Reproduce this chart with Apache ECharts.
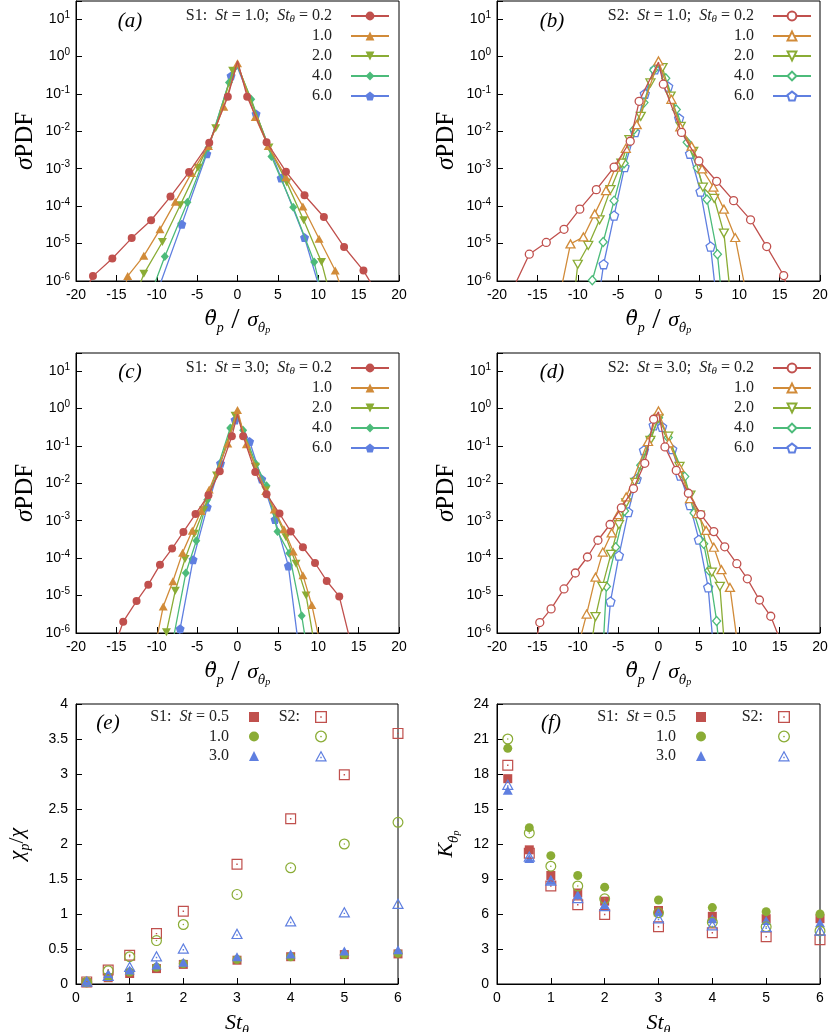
<!DOCTYPE html>
<html>
<head>
<meta charset="utf-8">
<title>PDF of particle angular velocity</title>
<script src="https://cdn.jsdelivr.net/npm/echarts@6.0.0/dist/echarts.min.js"></script>
<style>html,body{margin:0;padding:0;background:#fff;}</style>
</head>
<body>
<div id="main" style="width:830px;height:1032px;"></div>
<script type="text/javascript">
// ---------------- data ----------------
const stThetaNames = ['0.2', '1.0', '2.0', '4.0', '6.0'];

// [x, sigma*PDF] read off the markers; y = 7e-7 means the curve leaves the plot at the bottom
// (a) S1, St = 1.0
const a02 = [[-18.6,7e-7],[-17.9,1.35e-6],[-15.5,4e-6],[-13.1,1.4e-5],[-10.7,4.2e-5],[-8.3,1.8e-4],[-6.0,8.1e-4],[-3.5,4.9e-3],[-1.2,8.3e-2],[1.2,8.3e-2],[3.6,5.1e-3],[6.0,8.3e-4],[8.3,1.95e-4],[10.7,5.1e-5],[13.2,8.1e-6],[15.6,1.9e-6],[16.8,7e-7]];
const a10 = [[-13.9,7e-7],[-13.6,1.35e-6],[-11.6,4.7e-6],[-9.6,2.4e-5],[-7.7,1.3e-4],[-5.7,7.6e-4],[-3.6,4.0e-3],[-1.7,4.5e-2],[0,0.65],[2.2,2.4e-2],[3.8,4.0e-3],[6.0,5.9e-4],[8.1,9.8e-5],[10.1,1.35e-5],[12.1,1.9e-6],[12.8,7e-7]];
const a20 = [[-12.2,7e-7],[-11.6,1.55e-6],[-9.3,1.1e-5],[-7.1,1.05e-4],[-4.9,1.05e-3],[-2.7,1.2e-2],[-0.6,0.41],[3.9,3.7e-3],[6.1,4.3e-4],[8.2,4.2e-5],[10.4,3.2e-6],[11.2,7e-7]];
const a40 = [[-10.4,7e-7],[-9.0,4.5e-6],[-6.2,1.26e-4],[-3.6,3.7e-3],[-1.05,0.2],[1.7,7.1e-2],[4.2,2.1e-3],[6.9,9.3e-5],[9.5,3.2e-6],[10.2,7e-7]];
const a60 = [[-9.7,7e-7],[-6.9,3.3e-5],[-3.8,2.5e-3],[-0.8,0.3],[2.3,2.9e-2],[5.4,5.6e-4],[8.3,1.45e-5],[10.1,7e-7]];
const peakA = [0.75, null, 0.6, 0.55, 0.5];

// (b) S2, St = 1.0
const b02 = [[-17.9,7e-7],[-16.0,5.2e-6],[-13.9,1.07e-5],[-11.7,2.4e-5],[-9.75,8.3e-5],[-7.7,2.75e-4],[-5.5,1.1e-3],[-3.5,5.4e-3],[-2.4,6.3e-2],[0.6,0.18],[2.85,9.3e-3],[5.0,1.6e-3],[7.2,4.6e-4],[9.3,1.4e-4],[11.4,4.3e-5],[13.4,8.3e-6],[15.5,1.4e-6],[15.9,7e-7]];
const b10 = [[-12.0,7e-7],[-10.9,9.8e-6],[-9.3,1.5e-5],[-7.9,6.2e-5],[-6.5,2.6e-4],[-5.3,1.1e-3],[-4.05,3.5e-3],[-2.7,1.5e-2],[0,0.75],[1.6,7.1e-2],[2.7,1.3e-2],[4.1,4.0e-3],[5.4,9.8e-4],[6.8,3.2e-4],[8.1,8.3e-5],[9.5,1.45e-5],[10.7,7e-7]];
const b20 = [[-10.3,7e-7],[-10.0,2.8e-6],[-8.7,8.9e-6],[-7.3,4.3e-5],[-5.95,2.75e-4],[-4.6,1.4e-3],[-3.6,6.0e-3],[-2.2,2.5e-2],[-1.0,0.195],[0.5,0.5],[1.5,8.7e-2],[2.75,1.35e-2],[4.3,2.9e-3],[5.5,3.2e-4],[6.9,1.6e-4],[8.1,1.9e-5],[8.8,7e-7]];
const b40 = [[-8.6,7e-7],[-8.2,1.05e-6],[-6.85,1.1e-5],[-5.5,1.4e-4],[-4.25,1.4e-3],[-3.05,1.1e-2],[-1.8,5.8e-2],[-0.6,0.43],[0.9,0.26],[2.2,3.8e-2],[3.55,5.1e-3],[4.8,1.05e-3],[6.0,1.5e-4],[7.3,5.2e-6],[7.7,7e-7]];
const b60 = [[-7.2,7e-7],[-6.8,2.8e-6],[-5.5,5.6e-5],[-4.2,1.1e-3],[-2.9,9.5e-3],[-1.7,0.1],[-0.45,0.45],[1.2,0.155],[2.55,2.2e-2],[3.9,2.5e-3],[5.2,2.45e-4],[6.45,8.3e-6],[7.0,7e-7]];
const peakB = [0.7, null, 0.65, 0.55, 0.5];

// (c) S1, St = 3.0
const c02 = [[-14.9,7e-7],[-14.15,2.0e-6],[-12.5,7.1e-6],[-11.05,1.95e-5],[-9.6,6.6e-5],[-8.1,1.8e-4],[-6.7,5.0e-4],[-5.2,1.5e-3],[-3.6,4.8e-3],[-2.2,2.1e-2],[-0.7,0.18],[0.7,0.18],[2.2,2.0e-2],[3.6,5.1e-3],[5.2,1.55e-3],[6.6,5.1e-4],[8.1,1.95e-4],[9.6,7.4e-5],[11.05,2.45e-5],[12.6,9.5e-6],[13.9,7e-7]];
const c10 = [[-10.0,7e-7],[-9.2,5.1e-6],[-8.0,2.4e-5],[-6.8,1.4e-4],[-5.6,5.4e-4],[-4.5,1.8e-3],[-3.5,6.8e-3],[-1.2,0.115],[0,0.9],[1.1,0.11],[3.5,6.2e-3],[4.55,2.0e-3],[5.75,5.9e-4],[6.9,1.5e-4],[8.1,3.5e-5],[9.2,5.6e-6],[10.1,7e-7]];
const c20 = [[-9.0,7e-7],[-8.8,1.05e-6],[-7.7,1.35e-5],[-6.5,9.5e-5],[-5.35,4.5e-4],[-4.2,1.9e-3],[-2.6,1.6e-2],[-0.3,0.63],[2.2,2.75e-2],[3.5,6.5e-3],[4.8,1.45e-3],[6.0,3.6e-4],[7.25,7.1e-5],[8.5,1.0e-5],[9.4,7e-7]];
const c40 = [[-7.95,7e-7],[-6.4,4e-5],[-5.1,2.9e-4],[-3.75,3.6e-3],[-0.9,0.3],[0.7,0.26],[2.3,3.2e-2],[3.6,8.5e-3],[4.95,5.1e-4],[6.4,1.35e-4],[7.95,2.9e-6],[8.4,7e-7]];
const c60 = [[-7.2,7e-7],[-7.1,1.3e-6],[-5.5,9.1e-5],[-3.75,2.3e-3],[-2.1,3.4e-2],[-0.3,0.49],[1.5,0.13],[3.0,1.3e-2],[4.65,1.07e-3],[6.3,6.2e-5],[7.45,7e-7]];
const peakC = [0.7, null, 0.7, 0.6, 0.55];

// (d) S2, St = 3.0
const d02 = [[-15.1,7e-7],[-14.7,1.9e-6],[-13.3,4.4e-6],[-11.7,1.5e-5],[-10.3,4.0e-5],[-8.8,1.07e-4],[-7.5,3.0e-4],[-6.0,7.9e-4],[-4.6,2.2e-3],[-3.1,7.2e-3],[-1.7,3.4e-2],[-0.6,0.51],[0.8,9.3e-2],[2.2,2.2e-2],[3.7,5.4e-3],[5.25,1.45e-3],[6.85,5.1e-4],[8.2,2.0e-4],[9.7,7.1e-5],[11.0,2.8e-5],[12.5,7.6e-6],[13.9,2.8e-6],[15.0,7e-7]];
const d10 = [[-9.7,7e-7],[-8.9,3.2e-6],[-7.8,3.1e-5],[-6.9,1.45e-4],[-5.8,4.7e-4],[-5.0,1.45e-3],[-4.0,4.3e-3],[-1.3,0.13],[0,0.85],[1.3,0.12],[2.6,2.6e-2],[3.9,3.9e-3],[4.85,1.55e-3],[5.9,5.5e-4],[6.85,1.95e-4],[7.8,4.9e-5],[8.85,1.65e-5],[9.7,7e-7]];
const d20 = [[-8.2,7e-7],[-7.8,2.75e-6],[-6.95,1.75e-5],[-5.9,1.26e-4],[-4.9,7.8e-4],[-4.0,3.0e-3],[-2.9,1.05e-2],[-1.0,0.14],[0,0.54],[1.2,0.18],[2.6,2.8e-2],[3.95,4.8e-3],[5.1,1.4e-3],[6.6,4.2e-5],[7.6,1.75e-5],[8.1,7e-7]];
const d40 = [[-6.8,7e-7],[-6.45,1.75e-5],[-5.3,1.95e-4],[-4.2,1.8e-3],[-2.2,3e-2],[-1.0,0.16],[0,0.56],[1.2,0.165],[3.25,1.5e-2],[4.4,1.6e-3],[5.6,2.4e-4],[6.25,4.7e-5],[7.2,2.1e-6],[7.4,7e-7]];
const d60 = [[-6.35,7e-7],[-5.95,6.9e-6],[-4.9,1.17e-4],[-3.75,1.7e-3],[-2.7,1.3e-2],[-1.8,7.6e-2],[-0.6,0.35],[0.45,0.32],[1.7,8.1e-2],[2.7,1.6e-2],[3.9,2.6e-3],[5.0,3.1e-4],[6.15,1.65e-5],[6.7,7e-7]];
const peakD = [0.8, null, null, null, 0.45];

// (e), (f): St_theta and the two statistics for St = 0.5, 1.0, 3.0
const stTheta = [0.2, 0.6, 1, 1.5, 2, 3, 4, 5, 6];
const stNames = ['0.5', '1.0', '3.0'];
const chiS1 = [
  [0.02, 0.09, 0.15, 0.22, 0.28, 0.34, 0.39, 0.42, 0.43],
  [0.02, 0.10, 0.17, 0.24, 0.29, 0.35, 0.39, 0.42, 0.44],
  [0.04, 0.15, 0.20, 0.27, 0.31, 0.39, 0.43, 0.47, 0.49]
];
const chiS2 = [
  [0.03, 0.20, 0.41, 0.72, 1.04, 1.71, 2.36, 2.99, 3.58],
  [0.03, 0.19, 0.39, 0.62, 0.85, 1.28, 1.66, 2.00, 2.31],
  [0.04, 0.12, 0.25, 0.40, 0.51, 0.72, 0.90, 1.03, 1.15]
];
const kurtS1 = [
  [17.6, 11.5, 9.3, 7.8, 7.1, 6.3, 5.8, 5.6, 5.6],
  [20.2, 13.4, 11.0, 9.3, 8.3, 7.2, 6.55, 6.2, 6.0],
  [16.6, 10.75, 8.9, 7.65, 6.8, 6.2, 5.6, 5.45, 5.25]
];
const kurtS2 = [
  [18.75, 11.2, 8.4, 6.8, 5.95, 4.9, 4.4, 4.05, 3.8],
  [21.0, 12.95, 10.1, 8.4, 7.3, 6.1, 5.3, 4.9, 4.55],
  [17.1, 10.95, 8.9, 7.4, 6.7, 5.65, 5.05, 4.9, 4.6]
];

// ---------------- styles ----------------
const sans = 'Liberation Sans';
const serif = 'Liberation Serif';
const dserif = 'DejaVu Serif';
const colors5 = ['#c0504d', '#d18b39', '#8aac35', '#4cbb7a', '#5f7fe0'];
const colors3 = ['#c0504d', '#8aac35', '#5f7fe0'];

const pentagon = 'path://M0,-1L0.951,-0.309L0.588,0.809L-0.588,0.809L-0.951,-0.309Z';
const marks5 = [
  { symbol: 'circle', rotate: 0, size: 8 },
  { symbol: 'triangle', rotate: 0, size: [9, 8] },
  { symbol: 'triangle', rotate: 180, size: [9, 8] },
  { symbol: 'diamond', rotate: 0, size: [8, 9] },
  { symbol: pentagon, rotate: 0, size: 9 }
];
// open gnuplot-like symbols with a dot in the centre
const sqDot = 'path://M-1,-1L1,-1L1,1L-1,1Z M-0.78,-0.78L-0.78,0.78L0.78,0.78L0.78,-0.78Z M-0.13,-0.13L0.13,-0.13L0.13,0.13L-0.13,0.13Z';
const ciDot = 'path://M1,0A1,1,0,1,1,-1,0A1,1,0,1,1,1,0Z M0.78,0A0.78,0.78,0,1,0,-0.78,0A0.78,0.78,0,1,0,0.78,0Z M0.14,0A0.14,0.14,0,1,1,-0.14,0A0.14,0.14,0,1,1,0.14,0Z';
const triDot = 'path://M0,-1L1,0.8L-1,0.8Z M0,-0.59L-0.66,0.6L0.66,0.6Z M-0.12,0.02L0.12,0.02L0.12,0.26L-0.12,0.26Z';
const filled3 = [{ symbol: 'rect', size: 9 }, { symbol: 'circle', size: 9 }, { symbol: 'triangle', size: [10, 9] }];
const open3 = [{ symbol: sqDot, size: 11 }, { symbol: ciDot, size: 11 }, { symbol: triDot, size: [12, 11] }];

const mathRich = {
  it: { fontFamily: serif, fontStyle: 'italic', fontSize: 22, lineHeight: 30, color: '#000' },
  itd: { fontFamily: dserif, fontStyle: 'italic', fontSize: 20, lineHeight: 30, color: '#000' },
  n: { fontFamily: serif, fontSize: 22, lineHeight: 30, color: '#000' },
  sl: { fontFamily: serif, fontSize: 30, lineHeight: 30, color: '#000' },
  sb: { fontFamily: serif, fontStyle: 'italic', fontSize: 14, lineHeight: 14, verticalAlign: 'bottom', color: '#000' },
  sbd: { fontFamily: dserif, fontStyle: 'italic', fontSize: 12, lineHeight: 14, verticalAlign: 'bottom', color: '#000' },
  ssb: { fontFamily: serif, fontStyle: 'italic', fontSize: 10, lineHeight: 10, verticalAlign: 'bottom', color: '#000' }
};
const legRich = {
  i: { fontFamily: serif, fontStyle: 'italic', fontSize: 16, lineHeight: 18, color: '#222' },
  sb: { fontFamily: serif, fontStyle: 'italic', fontSize: 11, lineHeight: 11, verticalAlign: 'bottom', color: '#222' }
};
const thetaDot = '\u03b8\u0307';

// ---------------- layout ----------------
const gridPos = [
  { left: 76, top: 1, width: 323, height: 280 },
  { left: 497, top: 1, width: 323, height: 280 },
  { left: 76, top: 353, width: 323, height: 280 },
  { left: 497, top: 353, width: 323, height: 280 },
  { left: 76, top: 704, width: 322, height: 280 },
  { left: 497, top: 704, width: 323, height: 280 }
];
const grid = gridPos.map(g => Object.assign({
  show: true, borderColor: '#000', borderWidth: 1, backgroundColor: 'transparent',
  containLabel: false, outerBoundsMode: 'none'
}, g));

function axisBase(extra) {
  return Object.assign({
    axisLine: { show: true, onZero: false, lineStyle: { color: '#000', width: 1 } },
    axisTick: { show: true, inside: true, length: 6, lineStyle: { color: '#000' } },
    axisLabel: { color: '#000', fontFamily: sans, fontSize: 14 },
    splitLine: { show: false },
    nameTextStyle: { fontFamily: serif, fontSize: 22, color: '#000', rich: mathRich }
  }, extra);
}

const xAxis = [];
const yAxis = [];
for (let i = 0; i < 4; i++) {
  xAxis.push(axisBase({
    gridIndex: i, type: 'value', min: -20, max: 20, interval: 5,
    name: '{itd|' + thetaDot + '}{sb|p}{sl| / }{it|\u03c3}{sbd|' + thetaDot + '}{ssb|p}',
    nameLocation: 'middle', nameGap: 24,
    axisLabel: { color: '#000', fontFamily: sans, fontSize: 14, margin: 7 }
  }));
  yAxis.push(axisBase({
    gridIndex: i, type: 'log', logBase: 10, min: 1e-6, max: 30, splitNumber: 8,
    name: '{it|\u03c3}{n|PDF}', nameLocation: 'middle', nameRotate: 90, nameGap: 38,
    nameTextStyle: {
      fontFamily: serif, fontSize: 24, color: '#000',
      rich: {
        it: { fontFamily: serif, fontStyle: 'italic', fontSize: 25, color: '#000' },
        n: { fontFamily: serif, fontSize: 25, color: '#000' }
      }
    },
    axisLabel: {
      color: '#000', margin: 6,
      formatter: function (v) {
        const e = Math.log10(v);
        const r = Math.round(e);
        return Math.abs(e - r) < 1e-6 ? '{b|10}{s|' + r + '}' : '';
      },
      rich: {
        b: { fontFamily: sans, fontSize: 14, lineHeight: 18, color: '#000' },
        s: { fontFamily: sans, fontSize: 10, lineHeight: 10, verticalAlign: 'top', color: '#000' }
      }
    }
  }));
}
for (let i = 4; i < 6; i++) {
  xAxis.push(axisBase({
    gridIndex: i, type: 'value', min: 0, max: 6, interval: 1,
    name: '{it|St}{sb|\u03b8}', nameLocation: 'middle', nameGap: 24,
    axisLabel: { color: '#000', fontFamily: sans, fontSize: 14, margin: 7 }
  }));
}
yAxis.push(axisBase({
  gridIndex: 4, type: 'value', min: 0, max: 4, interval: 0.5,
  name: '{it|\u03c7}{sb|p}{n|/}{it|\u03c7}', nameLocation: 'middle', nameRotate: 90, nameGap: 44
}));
yAxis.push(axisBase({
  gridIndex: 5, type: 'value', min: 0, max: 24, interval: 3,
  name: '{it|K}{sbd|' + thetaDot + '}{ssb|p}', nameLocation: 'middle', nameRotate: 90, nameGap: 36
}));

// ---------------- series ----------------
const pdfPanels = [
  { key: 'a', sys: 'S1', st: '1.0', open: false, curves: [a02, a10, a20, a40, a60], peaks: peakA, right: 440, top: 7 },
  { key: 'b', sys: 'S2', st: '1.0', open: true, curves: [b02, b10, b20, b40, b60], peaks: peakB, right: 18, top: 7 },
  { key: 'c', sys: 'S1', st: '3.0', open: false, curves: [c02, c10, c20, c40, c60], peaks: peakC, right: 440, top: 359 },
  { key: 'd', sys: 'S2', st: '3.0', open: true, curves: [d02, d10, d20, d40, d60], peaks: peakD, right: 18, top: 359 }
];

function pdfData(pts, peak) {
  const out = pts.map(p => ({ value: p }));
  if (peak != null) out.push({ value: [0, peak], symbol: 'none' });
  out.sort((p, q) => p.value[0] - q.value[0]);
  return out;
}

const series = [];
const legend = [];
pdfPanels.forEach((p, pi) => {
  const names = [];
  p.curves.forEach((pts, k) => {
    const c = colors5[k];
    const name = p.key + '|' + stThetaNames[k];
    names.push(name);
    series.push({
      name: name, type: 'line', xAxisIndex: pi, yAxisIndex: pi,
      data: pdfData(pts, p.peaks[k]),
      symbol: marks5[k].symbol, symbolSize: marks5[k].size, symbolRotate: marks5[k].rotate,
      lineStyle: { color: c, width: 1.3 },
      itemStyle: p.open ? { color: '#fff', borderColor: c, borderWidth: 1.3 } : { color: c },
      clip: true, z: 10 - k
    });
  });
  legend.push({
    data: names, orient: 'vertical', align: 'right', right: p.right, top: p.top, padding: 0,
    itemWidth: 38, itemHeight: 11, itemGap: 2, selectedMode: false,
    textStyle: { fontFamily: serif, fontSize: 16, lineHeight: 18, color: '#222', padding: [0, 14, 0, 0], rich: legRich },
    formatter: function (name) {
      const v = name.split('|')[1];
      return v === '0.2' ? p.sys + ':  {i|St} = ' + p.st + ';  {i|St}{sb|\u03b8} = 0.2' : v;
    }
  });
});

const statPanels = [
  { key: 'e', s1: chiS1, s2: chiS2, idx: 4, r1: 571, r2: 504 },
  { key: 'f', s1: kurtS1, s2: kurtS2, idx: 5, r1: 124, r2: 41 }
];
statPanels.forEach(p => {
  const n1 = [], n2 = [];
  [p.s1, p.s2].forEach((set, sIdx) => {
    set.forEach((vals, k) => {
      const c = colors3[k];
      const name = p.key + '|S' + (sIdx + 1) + '|' + stNames[k];
      (sIdx === 0 ? n1 : n2).push(name);
      const m = sIdx === 0 ? filled3[k] : open3[k];
      series.push({
        name: name, type: 'scatter', xAxisIndex: p.idx, yAxisIndex: p.idx,
        data: stTheta.map((x, i) => [x, vals[i]]),
        symbol: m.symbol, symbolSize: m.size,
        itemStyle: { color: c, opacity: 1 },
        z: sIdx === 0 ? 5 : 6
      });
    });
  });
  legend.push({
    data: n1, orient: 'vertical', align: 'right', right: p.r1, top: 708, padding: 0,
    itemWidth: 10, itemHeight: 10, itemGap: 1.5, selectedMode: false,
    textStyle: { fontFamily: serif, fontSize: 16, lineHeight: 18, color: '#222', padding: [0, 15, 0, 0], rich: legRich },
    formatter: function (name) {
      const v = name.split('|')[2];
      return v === '0.5' ? 'S1:  {i|St} = 0.5' : v;
    }
  });
  legend.push({
    data: n2, orient: 'vertical', align: 'right', right: p.r2 - 1, top: 708, padding: 0,
    itemWidth: 12, itemHeight: 12, itemGap: 1.5, selectedMode: false,
    textStyle: { fontFamily: serif, fontSize: 16, lineHeight: 18, color: '#222', padding: [0, 10, 0, 0], rich: legRich },
    formatter: function (name) {
      return name.split('|')[2] === '0.5' ? 'S2:' : ' ';
    }
  });
});

// panel tags (a)...(f)
const tags = [['(a)', 130, 21], ['(b)', 552, 21], ['(c)', 130, 372], ['(d)', 552, 372], ['(e)', 108, 723], ['(f)', 551, 723]];
const graphic = tags.map(t => ({
  type: 'text', x: t[1], y: t[2], z: 100,
  style: { text: t[0], font: 'italic 21px "Liberation Serif"', fill: '#000', align: 'center', verticalAlign: 'middle' }
}));

const option = {
  animation: false,
  backgroundColor: '#fff',
  grid: grid,
  xAxis: xAxis,
  yAxis: yAxis,
  legend: legend,
  series: series,
  graphic: graphic
};

let myChart = echarts.init(document.getElementById('main'));
myChart.setOption(option);
</script>
</body>
</html>
